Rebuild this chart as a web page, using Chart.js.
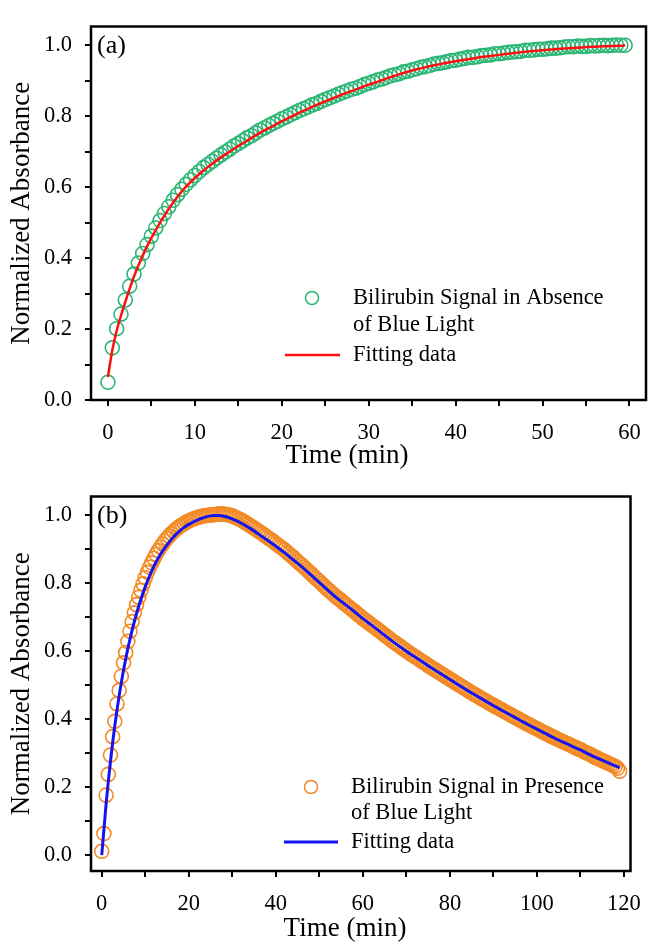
<!DOCTYPE html>
<html><head><meta charset="utf-8">
<script src="https://cdn.jsdelivr.net/npm/chart.js@4.4.1/dist/chart.umd.min.js"></script>
<style>
html,body{margin:0;padding:0;background:#fff;}
#wrapA{position:absolute;left:0;top:0;width:655px;height:470px;}
#wrapB{position:absolute;left:0;top:470px;width:655px;height:478px;}
</style></head><body>
<div id="wrapA"><canvas id="chartA" width="655" height="470"></canvas></div>
<div id="wrapB"><canvas id="chartB" width="655" height="478"></canvas></div>
<script>
// ---------- DATA ----------
const sampleStepMin = 0.5; // measurement interval (min)

// Panel (a): absence of blue light, one value per 0.5 min from t = 0
const signalA = [
0.050,0.147,0.201,0.242,0.282,0.321,0.355,0.386,0.413,0.438,
0.462,0.485,0.506,0.526,0.545,0.563,0.579,0.594,0.608,0.621,
0.633,0.644,0.655,0.664,0.673,0.682,0.691,0.699,0.707,0.716,
0.723,0.731,0.739,0.745,0.753,0.761,0.767,0.774,0.780,0.786,
0.793,0.798,0.804,0.810,0.816,0.821,0.826,0.832,0.836,0.842,
0.847,0.852,0.857,0.862,0.867,0.871,0.876,0.879,0.884,0.889,
0.893,0.897,0.902,0.905,0.909,0.914,0.917,0.920,0.925,0.927,
0.931,0.934,0.938,0.940,0.943,0.947,0.949,0.951,0.954,0.957,
0.958,0.961,0.963,0.966,0.966,0.968,0.971,0.972,0.973,0.976,
0.976,0.978,0.980,0.981,0.982,0.983,0.986,0.986,0.987,0.989,
0.989,0.990,0.992,0.992,0.993,0.995,0.996,0.996,0.998,0.997,
0.997,0.999,0.998,0.999,1.000,0.999,1.000,1.001,1.000,1.000
];
const fitTimeA = [0,0.5,1,1.5,2,2.5,3,3.5,4,4.5,5,5.5,6,6.5,7,8,9,10,11,12,13,14,15,16,17,18,19,20,
21,22,23,24,25,26,27,28,29,30,31,32,33,34,35,36,37,38,39,40,41,42,43,44,45,46,47,48,49,50,
51,52,53,54,55,56,57,58,59,59.5];
const fitValA = [0.065,0.140,0.195,0.238,0.277,0.314,0.348,0.379,0.407,0.433,0.457,0.479,0.500,0.520,0.539,
0.573,0.602,0.626,0.647,0.666,0.684,0.700,0.716,0.731,0.746,0.760,0.773,0.786,
0.798,0.810,0.821,0.832,0.842,0.852,0.862,0.871,0.880,0.889,0.897,0.906,0.914,0.922,0.929,0.935,0.941,0.946,0.951,0.955,
0.959,0.963,0.967,0.970,0.973,0.976,0.979,0.982,0.984,0.986,
0.988,0.990,0.992,0.993,0.995,0.996,0.997,0.998,0.999,1.000];

// Panel (b): presence of blue light, one value per 0.5 min from t = 0
const signalB = [
0.011,0.063,0.176,0.237,0.294,0.348,0.393,0.444,0.484,0.525,
0.565,0.595,0.628,0.658,0.686,0.712,0.736,0.758,0.778,0.797,
0.815,0.831,0.846,0.859,0.872,0.884,0.895,0.905,0.914,0.923,
0.931,0.938,0.945,0.951,0.957,0.962,0.967,0.971,0.975,0.979,
0.982,0.985,0.988,0.990,0.992,0.994,0.996,0.997,0.998,0.999,
1.000,1.000,1.001,1.002,1.003,1.003,1.002,1.002,1.000,0.999,
0.997,0.994,0.991,0.988,0.985,0.981,0.977,0.973,
0.969,0.965,0.961,0.957,0.952,0.948,0.944,0.939,0.934,0.930,
0.926,0.921,0.916,0.911,0.906,0.902,0.897,0.891,0.886,0.880,
0.875,0.869,0.863,0.857,0.852,0.846,0.840,0.834,0.828,0.822,
0.816,0.810,0.804,0.798,0.792,0.786,0.780,0.775,0.769,0.763,
0.758,0.753,0.748,0.742,0.737,0.732,0.727,0.722,0.717,0.711,
0.706,0.701,0.695,0.691,0.686,0.681,0.676,0.672,0.667,0.662,
0.657,0.652,0.647,0.642,0.637,0.632,0.627,0.623,0.618,0.614,
0.609,0.605,0.600,0.596,0.591,0.587,0.583,0.579,0.574,0.570,
0.566,0.562,0.557,0.553,0.549,0.545,0.541,0.537,0.533,0.529,
0.525,0.521,0.517,0.513,0.509,0.505,0.501,0.497,0.493,0.489,
0.485,0.481,0.477,0.473,0.470,0.466,0.462,0.458,0.455,0.451,
0.447,0.443,0.440,0.436,0.433,0.429,0.426,0.422,0.419,0.415,
0.412,0.408,0.405,0.401,0.398,0.394,0.391,0.387,0.384,0.381,
0.377,0.374,0.371,0.368,0.364,0.361,0.358,0.355,0.351,0.348,
0.345,0.342,0.339,0.336,0.333,0.330,0.327,0.324,0.321,0.318,
0.315,0.312,0.310,0.306,0.303,0.300,0.297,0.294,0.290,0.287,
0.284,0.281,0.278,0.275,0.272,0.269,0.266,0.263,0.260,0.255,
0.246
];
const fitTimeB = [0,0.5,1,1.5,2,2.5,3,3.5,4,4.5,5,5.5,6,7,8,9,10,11,12,13,14,15,16,17,18,19,20,
21,22,23,24,25,26,27,28,29,30,32,34,36,38,40,42,44,46,48,50,52,54,56,58,60,62,64,66,68,70,
72,74,76,78,80,82,84,86,88,90,92,94,96,98,100,102,104,106,108,110,112,114,116,118,119];
const fitValB = [0.000,0.075,0.150,0.215,0.275,0.330,0.380,0.426,0.468,0.507,0.543,0.576,0.607,
0.662,0.710,0.752,0.789,0.821,0.849,0.873,0.894,0.912,0.928,0.942,0.954,0.964,0.972,
0.979,0.985,0.990,0.994,0.997,0.998,0.998,0.996,0.993,0.988,0.976,0.961,0.944,0.926,0.908,
0.889,0.868,0.847,0.824,0.801,0.778,0.756,0.736,0.716,0.695,0.676,0.656,0.636,0.617,0.599,
0.582,0.565,0.548,0.532,0.516,0.500,0.484,0.469,0.454,0.439,0.425,0.411,0.397,0.383,0.370,
0.357,0.344,0.332,0.320,0.309,0.296,0.284,0.273,0.262,0.257];

// Axis ticks and labels
const xTicksA = [0,5,10,15,20,25,30,35,40,45,50,55,60];
const xLabelsA = [0,10,20,30,40,50,60];
const xTicksB = [0,10,20,30,40,50,60,70,80,90,100,110,120];
const xLabelsB = [0,20,40,60,80,100,120];
const yTicks = [0,0.1,0.2,0.3,0.4,0.5,0.6,0.7,0.8,0.9,1.0];
const yLabels = [0,0.2,0.4,0.6,0.8,1.0];

// Text
const xTitle = 'Time (min)';
const yTitle = 'Normalized Absorbance';
const legendSignalA = ['Bilirubin Signal in Absence', 'of Blue Light'];
const legendSignalB = ['Bilirubin Signal in Presence', 'of Blue Light'];
const legendFit = 'Fitting data';

// ---------- RENDERING ----------
const SERIF = "'Liberation Serif', 'Times New Roman', serif";

const decorPlugin = {
  id: 'decor',
  afterDraw(chart, args, o) {
    const {ctx, chartArea: a} = chart;
    ctx.save();
    ctx.strokeStyle = '#000';
    ctx.lineWidth = 2.5;
    ctx.strokeRect(a.left, a.top, a.right - a.left, a.bottom - a.top);
    ctx.fillStyle = '#000';
    ctx.textBaseline = 'middle';
    ctx.textAlign = 'left';
    ctx.font = '26px ' + SERIF;
    ctx.fillText(o.panel, a.left + o.panelDx, a.top + o.panelDy);
    // x axis title
    ctx.textAlign = 'center';
    ctx.font = '27px ' + SERIF;
    ctx.fillText(xTitle, o.xTitleX, o.xTitleY);
    ctx.textAlign = 'left';
    // legend
    const L = o.legend;
    const sig = chart.data.datasets[1];
    const fit = chart.data.datasets[0];
    ctx.font = '22.5px ' + SERIF;
    ctx.beginPath();
    ctx.arc(L.markerX, L.rows[0], 6.5, 0, Math.PI * 2);
    ctx.strokeStyle = sig.borderColor;
    ctx.lineWidth = 1.5;
    ctx.stroke();
    ctx.fillText(sig.labelLines[0], L.textX, L.rows[0]);
    ctx.fillText(sig.labelLines[1], L.textX, L.rows[1]);
    ctx.beginPath();
    ctx.moveTo(L.lineX1, L.rows[2]);
    ctx.lineTo(L.lineX2, L.rows[2]);
    ctx.strokeStyle = fit.borderColor;
    ctx.lineWidth = fit.borderWidth;
    ctx.stroke();
    ctx.fillText(fit.label, L.textX, L.rows[2]);
    ctx.restore();
  }
};

function makeChart(id, opt) {
  const sigData = opt.signal.map((v, i) => ({x: i * sampleStepMin, y: v}));
  const fitData = opt.fitT.map((t, i) => ({x: t, y: opt.fitV[i]}));
  return new Chart(document.getElementById(id), {
    type: 'scatter',
    data: {
      datasets: [
        {label: legendFit, data: fitData, showLine: true, borderColor: opt.fitColor, borderWidth: opt.fitWidth,
         pointRadius: 0, cubicInterpolationMode: 'monotone', order: 0},
        {label: opt.sigLabel.join(' '), labelLines: opt.sigLabel, data: sigData, showLine: false,
         pointStyle: 'circle', pointRadius: 7, pointBorderWidth: 1.6,
         borderColor: opt.sigColor, backgroundColor: 'rgba(0,0,0,0)', order: 1}
      ]
    },
    options: {
      responsive: false,
      animation: false,
      events: [],
      layout: {padding: {top: opt.padTop, right: opt.padRight, left: 0, bottom: 0}},
      plugins: {
        legend: {display: false},
        tooltip: {enabled: false},
        decor: {panel: opt.panel, panelDx: 6, panelDy: 20, legend: opt.legendPos,
                xTitleX: opt.xTitleX, xTitleY: opt.xTitleY}
      },
      scales: {
        x: {
          type: 'linear', min: opt.xMin, max: opt.xMax,
          afterBuildTicks: s => { s.ticks = opt.xTicks.map(v => ({value: v})); },
          afterFit: s => { s.height = opt.xHeight; },
          grid: {display: true, drawOnChartArea: false, drawTicks: true, tickLength: 6, color: '#000', lineWidth: 2},
          border: {display: false},
          ticks: {autoSkip: false, maxRotation: 0, padding: 14, color: '#000',
                  font: {family: SERIF, size: 22.5},
                  callback: v => opt.xLabels.includes(v) ? String(v) : ''},
          title: {display: false}
        },
        y: {
          type: 'linear', min: opt.yMin, max: opt.yMax,
          afterBuildTicks: s => { s.ticks = yTicks.map(v => ({value: v})); },
          afterFit: s => { s.width = 91; },
          grid: {display: true, drawOnChartArea: false, drawTicks: true, tickLength: 6, color: '#000', lineWidth: 2},
          border: {display: false},
          ticks: {autoSkip: false, padding: 13, color: '#000', font: {family: SERIF, size: 22.5},
                  callback: v => yLabels.some(l => Math.abs(l - v) < 1e-9) ? v.toFixed(1) : ''},
          title: {display: true, text: yTitle, color: '#000', font: {family: SERIF, size: 27}, padding: {top: 6, bottom: 0}}
        }
      }
    },
    plugins: [decorPlugin]
  });
}

makeChart('chartA', {
  signal: signalA, fitT: fitTimeA, fitV: fitValA, sigLabel: legendSignalA,
  sigColor: '#2db676', fitColor: '#ff1010', fitWidth: 2.5,
  xMin: -1.95, xMax: 61.9, yMin: 0, yMax: 1.053,
  xTicks: xTicksA, xLabels: xLabelsA,
  padTop: 10, padRight: 8, xHeight: 70,
  xTitleX: 347, xTitleY: 456,
  panel: '(a)',
  legendPos: {markerX: 312, lineX1: 285, lineX2: 340, textX: 353, rows: [298, 325, 355]}
});
makeChart('chartB', {
  signal: signalB, fitT: fitTimeB, fitV: fitValB, sigLabel: legendSignalB,
  sigColor: '#f28a26', fitColor: '#1414f0', fitWidth: 3,
  xMin: -2.47, xMax: 121.5, yMin: -0.047, yMax: 1.054,
  xTicks: xTicksB, xLabels: xLabelsB,
  padTop: 11, padRight: 12, xHeight: 77,
  xTitleX: 345, xTitleY: 459,
  panel: '(b)',
  legendPos: {markerX: 311, lineX1: 284, lineX2: 338, textX: 351, rows: [317, 343, 372]}
});
</script>
</body></html>
